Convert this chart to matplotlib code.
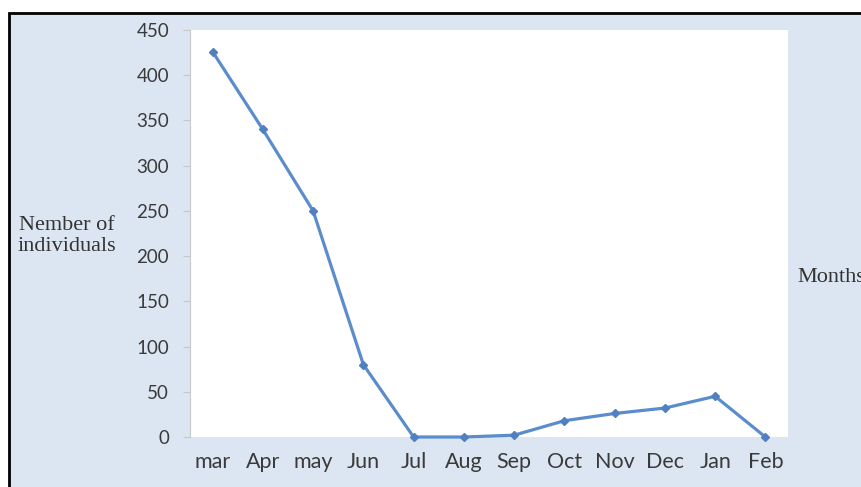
import matplotlib.pyplot as plt
from matplotlib.patches import Rectangle

# Data
months = ["mar", "Apr", "may", "Jun", "Jul", "Aug", "Sep", "Oct", "Nov", "Dec", "Jan", "Feb"]
counts = [426, 340, 250, 80, 0, 0, 2, 18, 26, 32, 45, 0]
yticks = [0, 50, 100, 150, 200, 250, 300, 350, 400, 450]

W, H = 862, 487
fig = plt.figure(figsize=(W / 100, H / 100), dpi=100)
fig.patch.set_facecolor("white")

# light blue chart area with black frame (top and left visible)
bg = Rectangle((9 / W, -0.1), 1.2, 1.1 - 13 / H, transform=fig.transFigure,
               facecolor="#dce6f2", edgecolor="black", linewidth=2, zorder=-10)
fig.add_artist(bg)

ax = fig.add_axes([190 / W, 50 / H, 598 / W, 407 / H])
ax.set_zorder(1)
ax.set_facecolor("white")

x = list(range(len(months)))
ax.plot(x, counts, color="#5b8dcd", linewidth=2.3, marker="D", markersize=4.5,
        markerfacecolor="#5080c0", markeredgecolor="#5080c0", clip_on=False)

ax.set_xlim(-0.45, len(months) - 0.55)
ax.set_ylim(0, 450)
ax.set_yticks(yticks)
ax.set_xticks(x)
ax.set_xticklabels(months)

for s in ["top", "right", "bottom"]:
    ax.spines[s].set_visible(False)
ax.spines["left"].set_color("#c8c8c8")
ax.spines["left"].set_linewidth(0.8)

ax.tick_params(axis="y", length=5, width=0.8, color="#c8c8c8", pad=10,
               labelsize=13.5, labelcolor="#3a3a3a")
ax.tick_params(axis="x", length=0, pad=11, labelsize=15.5, labelcolor="#3a3a3a")
for lab in ax.get_xticklabels() + ax.get_yticklabels():
    lab.set_family("Lato")

fig.text(67 / W, 1 - 236 / H, "Nember of\nindividuals", family="Liberation Serif",
         fontsize=16, color="#333333", ha="center", va="center",
         multialignment="center", linespacing=1.2)
fig.text(797 / W, 1 - 277 / H, "Months", family="Liberation Serif",
         fontsize=16, color="#333333", ha="left", va="center")

fig.savefig("out.png", dpi=100)
